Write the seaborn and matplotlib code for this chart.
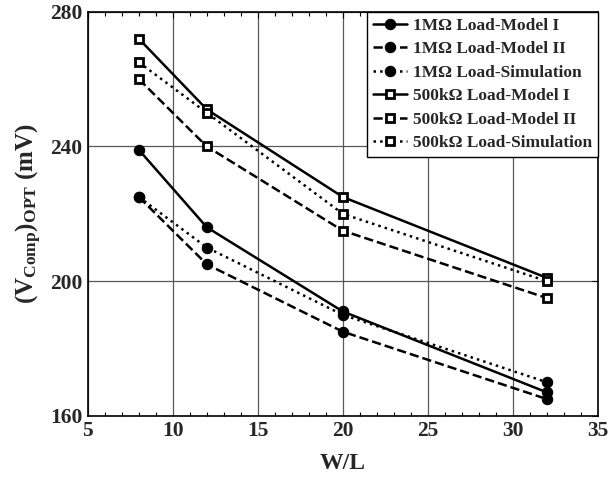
import numpy as np
import pandas as pd
import seaborn as sns
import matplotlib
matplotlib.use('Agg')
import matplotlib.pyplot as plt
from matplotlib.ticker import MultipleLocator

# data
wl = [8, 12, 20, 32]
m1_model1 = [239, 216, 191, 167]
m1_model2 = [225, 205, 185, 165]
m1_sim = [225, 210, 190, 170]
k500_model1 = [272, 251, 225, 201]
k500_model2 = [260, 240, 215, 195]
k500_sim = [265, 250, 220, 200]

labels = ['1M\u03a9 Load-Model I', '1M\u03a9 Load-Model II', '1M\u03a9 Load-Simulation',
          '500k\u03a9 Load-Model I', '500k\u03a9 Load-Model II', '500k\u03a9 Load-Simulation']
series = [m1_model1, m1_model2, m1_sim, k500_model1, k500_model2, k500_sim]

frames = []
for lab, vals in zip(labels, series):
    frames.append(pd.DataFrame({'W/L': wl, 'V': vals, 'series': lab}))
data = pd.concat(frames, ignore_index=True)

sns.set_theme(style='white')
plt.rcParams['font.family'] = ['Liberation Serif', 'DejaVu Serif']
plt.rcParams['font.weight'] = 'bold'
plt.rcParams['mathtext.fontset'] = 'custom'
plt.rcParams['mathtext.rm'] = 'Liberation Serif:bold'
plt.rcParams['mathtext.bf'] = 'Liberation Serif:bold'
plt.rcParams['mathtext.it'] = 'Liberation Serif:bold'

fig, ax = plt.subplots(figsize=(6.10, 4.91), dpi=100)
fig.subplots_adjust(left=0.144, right=0.980, top=0.976, bottom=0.153)

styles = ['-', '--', ':', '-', '--', ':']
markers = ['o', 'o', 'o', 's', 's', 's']
for lab, ls, mk in zip(labels, styles, markers):
    d = data[data['series'] == lab]
    if mk == 'o':
        sns.lineplot(data=d, x='W/L', y='V', ax=ax, color='black', linestyle=ls, linewidth=1.8,
                     marker='o', markersize=7.5, markerfacecolor='black', markeredgecolor='black',
                     label=lab)
    else:
        sns.lineplot(data=d, x='W/L', y='V', ax=ax, color='black', linestyle=ls, linewidth=1.8,
                     marker='s', markersize=5.8, markerfacecolor='white', markeredgecolor='black',
                     markeredgewidth=2, label=lab)

ax.set_xlim(5, 35)
ax.set_ylim(160, 280)
ax.set_xticks([5, 10, 15, 20, 25, 30, 35])
ax.set_yticks([160, 200, 240, 280])
ax.xaxis.set_minor_locator(MultipleLocator(1))
ax.tick_params(axis='x', which='minor', direction='in', top=True, bottom=True, length=3, width=0.8, color='black')
ax.tick_params(axis='both', which='major', direction='in', top=True, right=True, length=4, width=0.8,
               color='black', labelsize=15.5, pad=4)
ax.grid(True, which='major', color='0.35', linewidth=0.9)
for sp in ax.spines.values():
    sp.set_color('black')
    sp.set_linewidth(1.2)
for t in ax.get_xticklabels() + ax.get_yticklabels():
    t.set_fontweight('bold')

ax.set_xlabel('W/L', fontsize=17, fontweight='bold', labelpad=8)
ax.set_ylabel(r'$\mathbf{(V}_{\mathbf{Comp}}\mathbf{)}_{\mathbf{OPT}}$ (mV)', fontsize=18, fontweight='bold', labelpad=4)

leg = ax.legend(loc='upper right', borderaxespad=0, fancybox=False, framealpha=1, edgecolor='black',
                prop={'family': 'Liberation Serif', 'weight': 'bold', 'size': 12.5},
                handlelength=2.0, handletextpad=0.3, labelspacing=0.42, borderpad=0.35)
leg.get_frame().set_linewidth(1.0)

fig.savefig('out.png', dpi=100)
